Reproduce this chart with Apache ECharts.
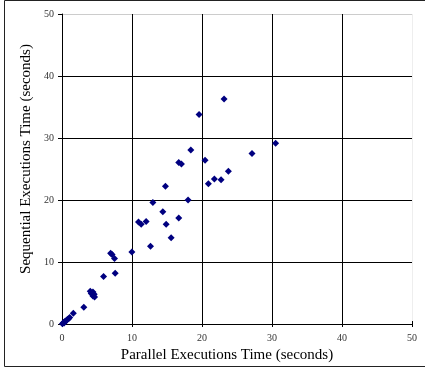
<!DOCTYPE html>
<html>
<head>
<meta charset="utf-8">
<script src="https://cdn.jsdelivr.net/npm/echarts@6/dist/echarts.min.js"></script>
<style>
html,body{margin:0;padding:0;background:#fff;}
#c{width:425px;height:368px;}
</style>
</head>
<body>
<div id="c"></div>
<script>
var xTitle = 'Parallel Executions Time (seconds)';
var yTitle = 'Sequential Executions Time (seconds)';
var parallelTimes = [0.05,0.2,0.35,0.5,0.65,0.8,0.95,1.1,0.3,1.62,3.12,
  4.04,4.42,4.18,4.6,4.42,4.65,5.94,6.95,7.15,7.5,7.6,
  9.98,12.64,15.59,14.88,16.68,14.4,12.98,18.01,10.93,11.31,12.02,
  14.78,16.68,17.06,18.4,20.44,20.91,21.77,22.72,23.77,27.14,
  23.15,19.58,30.52];
var sequentialTimes = [0.05,0.2,0.35,0.45,0.6,0.75,0.85,1.05,0.15,1.72,2.7,
  5.29,5.18,4.9,4.8,4.53,4.37,7.65,11.4,11.2,10.57,8.19,
  11.6,12.56,13.9,16.07,17.1,18.1,19.6,20.0,16.44,16.1,16.55,
  22.2,26.03,25.8,28.08,26.4,22.63,23.4,23.28,24.63,27.5,
  36.3,33.8,29.16];
var axisMin = 0, axisMax = 50, axisStep = 10;

var pts = parallelTimes.map(function(x,i){return [x, sequentialTimes[i]];});
var font = '"Liberation Serif", "Times New Roman", serif';
var chart = echarts.init(document.getElementById('c'));
chart.setOption({
  animation:false,
  backgroundColor:'#fff',
  grid:{left:62,right:13,top:14,bottom:44,containLabel:false},
  graphic:[{type:'rect',shape:{x:4.5,y:0.5,width:440,height:366},
    style:{fill:'none',stroke:'#222',lineWidth:1},silent:true}],
  xAxis:[{
    type:'value',min:axisMin,max:axisMax,interval:axisStep,
    name:xTitle,nameLocation:'middle',nameGap:20,
    nameTextStyle:{fontFamily:font,fontSize:15,color:'#000',padding:[0,20,0,0]},
    axisLine:{show:true,lineStyle:{color:'#000',width:1}},
    axisTick:{show:true,length:3,lineStyle:{color:'#000'}},
    axisLabel:{fontFamily:font,fontSize:10,color:'#333',margin:9},
    splitLine:{show:true,lineStyle:{color:['#000','#000','#000','#000','#000','#eee'],width:1}}
  },{
    type:'value',min:axisMin,max:axisMax,interval:axisStep,position:'bottom',
    axisLine:{show:false},axisLabel:{show:false},splitLine:{show:false},
    axisTick:{show:true,inside:true,length:3,lineStyle:{color:'#000'}}
  }],
  yAxis:{
    type:'value',min:axisMin,max:axisMax,interval:axisStep,
    name:yTitle,nameLocation:'middle',nameGap:26,
    nameTextStyle:{fontFamily:font,fontSize:15,color:'#000',padding:[0,0,0,20]},
    axisLine:{show:true,lineStyle:{color:'#000',width:1}},
    axisTick:{show:true,length:4,lineStyle:{color:'#000'}},
    axisLabel:{fontFamily:font,fontSize:10,color:'#333',margin:8},
    splitLine:{show:true,lineStyle:{color:['#000','#000','#000','#000','#000','#ccc'],width:1}}
  },
  series:[{
    type:'scatter',xAxisIndex:0,symbol:'diamond',symbolSize:7,
    itemStyle:{color:'#000080',opacity:1},
    data:pts
  }]
});
</script>
</body>
</html>
